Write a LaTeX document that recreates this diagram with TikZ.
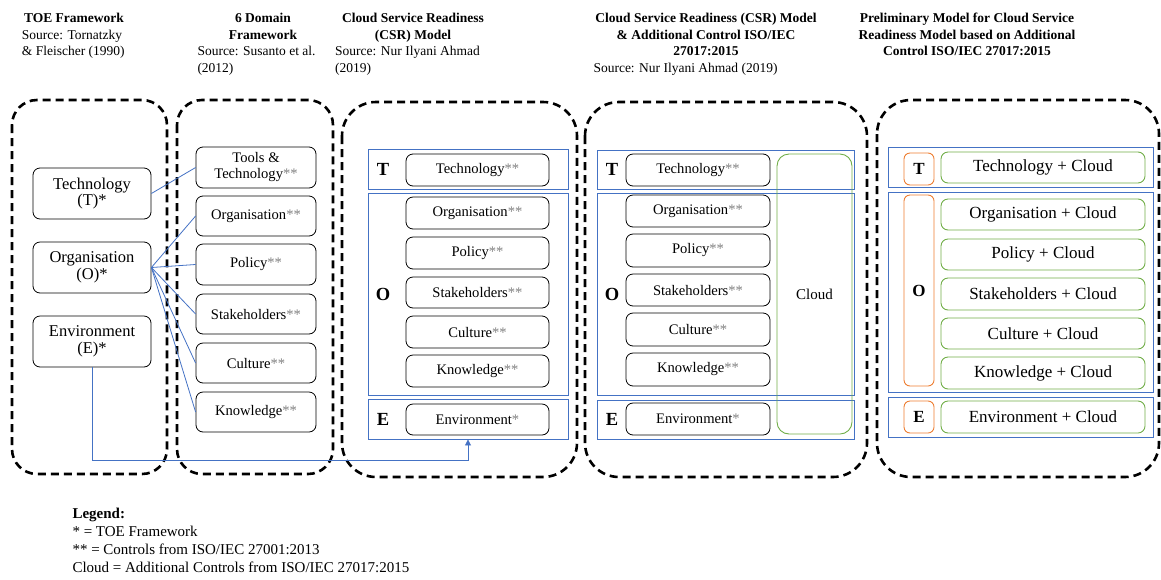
\documentclass[tikz,border=0pt]{standalone}
\usepackage{fontspec}
\setmainfont{Liberation Serif}
\usetikzlibrary{arrows.meta}
\definecolor{bandblue}{HTML}{4472C4}
\definecolor{cgreen}{HTML}{70AD47}
\definecolor{corange}{HTML}{ED7D31}
\definecolor{stargray}{HTML}{7F7F7F}
\newcommand\st[1]{\textcolor{stargray}{#1}}
% #1 style, #2 name, #3 x1, #4 y1, #5 x2, #6 y2, #7 text
\newcommand\mkbox[7]{%
  \pgfmathsetmacro\mkX{(#3+#5)/2}%
  \pgfmathsetmacro\mkY{(#4+#6)/2}%
  \pgfmathsetmacro\mkW{#5-#3}%
  \pgfmathsetmacro\mkH{#6-#4}%
  \node[#1, minimum width=\mkW pt, minimum height=\mkH pt, inner sep=0pt] (#2) at (\mkX,\mkY) {#7};}
\begin{document}
\begin{tikzpicture}[x=1pt,y=-1pt,
  panelA/.style={draw=black, line width=2.6pt, dash pattern=on 8pt off 5pt, rounded corners=25pt},
  panelB/.style={draw=black, line width=2.6pt, dash pattern=on 8pt off 5pt, rounded corners=34pt},
  bbox/.style={draw=black, line width=0.8pt, rounded corners=7pt, align=center},
  band/.style={draw=bandblue, line width=0.9pt},
  gbox/.style={draw=cgreen, line width=0.9pt, rounded corners=7pt, align=center},
  obox/.style={draw=corange, line width=0.9pt, rounded corners=6pt},
  conn/.style={draw=bandblue, line width=0.8pt},
  ttl/.style={font=\fontsize{13.5}{16}\selectfont\bfseries, inner sep=0pt},
  src/.style={font=\fontsize{13.5}{16}\selectfont, inner sep=0pt},
  leg/.style={font=\fontsize{15}{18}\selectfont, inner sep=0pt, anchor=base west},
  fone/.style={font=\fontsize{16.5}{16.5}\selectfont},
  ftwo/.style={font=\fontsize{14.6}{16}\selectfont},
  ffive/.style={font=\fontsize{17}{18}\selectfont},
  letter/.style={font=\fontsize{18.5}{20}\selectfont\bfseries, inner sep=0pt},
  letterv/.style={font=\fontsize{17}{20}\selectfont\bfseries},
]
\useasboundingbox (0,0) rectangle (1161,579);

% ---------- titles ----------
\node[ttl, anchor=base] (t1a) at (74,22.5) {TOE Framework};
\node[src, anchor=base west] (t1b) at (21.7,39) {Source: Tornatzky};
\node[src, anchor=base west] (t1c) at (21.7,55.5) {\& Fleischer (1990)};

\node[ttl, anchor=base] (t2a) at (263,22.5) {6 Domain};
\node[ttl, anchor=base] (t2b) at (263,39) {Framework};
\node[src, anchor=base west] (t2c) at (197.3,55.5) {Source: Susanto et al.};
\node[src, anchor=base west] (t2d) at (197.3,72) {(2012)};

\node[ttl, anchor=base] (t3a) at (413,22.5) {Cloud Service Readiness};
\node[ttl, anchor=base] (t3b) at (413,39) {(CSR) Model};
\node[src, anchor=base west] (t3c) at (335,55.5) {Source: Nur Ilyani Ahmad};
\node[src, anchor=base west] (t3d) at (335,72) {(2019)};

\node[ttl, anchor=base] (t4a) at (706,22.5) {Cloud Service Readiness (CSR) Model};
\node[ttl, anchor=base] (t4b) at (706,39) {\& Additional Control ISO/IEC};
\node[ttl, anchor=base] (t4c) at (706,55.5) {27017:2015};
\node[src, anchor=base west] (t4d) at (593.3,72) {Source: Nur Ilyani Ahmad (2019)};

\node[ttl, anchor=base] (t5a) at (967,22.5) {Preliminary Model for Cloud Service};
\node[ttl, anchor=base] (t5b) at (967,39) {Readiness Model based on Additional};
\node[ttl, anchor=base] (t5c) at (967,55.5) {Control ISO/IEC 27017:2015};

% ---------- dashed panels ----------
\draw[panelA] (12,100) rectangle (167,474);
\draw[panelA] (177,100) rectangle (333,474);
\draw[panelB] (342,102) rectangle (577,477);
\draw[panelB] (585,102) rectangle (867,477);
\draw[panelB] (877,100) rectangle (1159,477);

% ---------- panel 1 ----------
\mkbox{bbox,fone}{tech1}{33}{168}{151}{219}{Technology\\(T)*}
\mkbox{bbox,fone}{org1}{33}{242}{151}{293}{Organisation\\(O)*}
\mkbox{bbox,fone}{env1}{33}{316}{151}{367}{Environment\\(E)*}

% ---------- panel 2 ----------
\mkbox{bbox,ftwo}{tools2}{196}{147}{316}{188}{Tools \&\\Technology\st{**}}
\mkbox{bbox,ftwo}{org2}{196}{196}{316}{236}{Organisation\st{**}}
\mkbox{bbox,ftwo}{pol2}{196}{244}{316}{285}{Policy\st{**}}
\mkbox{bbox,ftwo}{stk2}{196}{294}{316}{334}{Stakeholders\st{**}}
\mkbox{bbox,ftwo}{cul2}{196}{343}{316}{383}{Culture\st{**}}
\mkbox{bbox,ftwo}{kno2}{196}{392}{316}{432}{Knowledge\st{**}}

% ---------- panel 3 ----------
\mkbox{band}{tb3}{368}{149}{568}{189}{}
\mkbox{band}{ob3}{368}{193}{568}{395}{}
\mkbox{band}{eb3}{368}{399}{568}{439}{}
\node[letter] (lt3) at (383,169) {T};
\node[letter] (lo3) at (383,294) {O};
\node[letter] (le3) at (383,419) {E};
\mkbox{bbox,ftwo}{tech3}{406}{154}{549}{186}{Technology\st{**}}
\mkbox{bbox,ftwo}{org3}{406}{197}{549}{229}{Organisation\st{**}}
\mkbox{bbox,ftwo}{pol3}{406}{237}{549}{269}{Policy\st{**}}
\mkbox{bbox,ftwo}{stk3}{406}{277}{549}{308}{Stakeholders\st{**}}
\mkbox{bbox,ftwo}{cul3}{406}{316}{549}{348}{Culture\st{**}}
\mkbox{bbox,ftwo}{kno3}{406}{355}{549}{387}{Knowledge\st{**}}
\mkbox{bbox,ftwo}{env3}{406}{404}{549}{435}{Environment\st{*}}

% ---------- panel 4 ----------
\mkbox{band}{tb4}{597}{150}{854}{189}{}
\mkbox{band}{ob4}{597}{193}{854}{395}{}
\mkbox{band}{eb4}{597}{400}{854}{439}{}
\node[letter] (lt4) at (612,169.5) {T};
\node[letter] (lo4) at (612,294) {O};
\node[letter] (le4) at (612,419.5) {E};
\mkbox{bbox,ftwo}{tech4}{626}{154}{770}{186}{Technology\st{**}}
\mkbox{bbox,ftwo}{org4}{626}{195}{770}{227}{Organisation\st{**}}
\mkbox{bbox,ftwo}{pol4}{626}{234}{770}{267}{Policy\st{**}}
\mkbox{bbox,ftwo}{stk4}{626}{274}{770}{306}{Stakeholders\st{**}}
\mkbox{bbox,ftwo}{cul4}{626}{313}{770}{346}{Culture\st{**}}
\mkbox{bbox,ftwo}{kno4}{626}{353}{770}{386}{Knowledge\st{**}}
\mkbox{bbox,ftwo}{env4}{626}{403}{770}{435}{Environment\st{*}}
\mkbox{gbox,font=\fontsize{15}{16}\selectfont,rounded corners=12pt}{cloud4}{777}{154}{852}{434}{Cloud}

% ---------- panel 5 ----------
\mkbox{band}{tb5}{888}{147}{1153}{187}{}
\mkbox{band}{ob5}{888}{192}{1153}{392}{}
\mkbox{band}{eb5}{888}{397}{1153}{437}{}
\mkbox{obox,letterv}{lt5}{904}{153}{934}{185}{T}
\mkbox{obox,letterv}{lo5}{904}{195}{934}{386}{O}
\mkbox{obox,letterv}{le5}{904}{401}{934}{433}{E}
\mkbox{gbox,ffive}{tech5}{941}{152}{1145}{183}{Technology + Cloud}
\mkbox{gbox,ffive}{org5}{941}{199}{1145}{230}{Organisation + Cloud}
\mkbox{gbox,ffive}{pol5}{941}{239}{1145}{270}{Policy + Cloud}
\mkbox{gbox,ffive}{stk5}{941}{278}{1145}{310}{Stakeholders + Cloud}
\mkbox{gbox,ffive}{cul5}{941}{318}{1145}{349}{Culture + Cloud}
\mkbox{gbox,ffive}{kno5}{941}{357}{1145}{389}{Knowledge + Cloud}
\mkbox{gbox,ffive}{env5}{941}{401}{1145}{433}{Environment + Cloud}

% ---------- connectors ----------
\draw[conn] (tech1.east) -- (tools2.west);
\foreach \n in {org2,pol2,stk2,cul2,kno2}{\draw[conn] (org1.east) -- (\n.west);}
\coordinate (bend) at (468,460);
\draw[conn,-{Triangle[length=6pt,width=6pt]}] (env1.south) |- (bend) -- (bend |- eb3.south);

% ---------- legend ----------
\node[leg, font=\fontsize{15}{18}\selectfont\bfseries] (lg0) at (72.3,518.5) {Legend:};
\node[leg] (lg1) at (72.3,536.5) {* = TOE Framework};
\node[leg] (lg2) at (72.3,554.5) {** = Controls from ISO/IEC 27001:2013};
\node[leg] (lg3) at (72.3,572) {Cloud = Additional Controls from ISO/IEC 27017:2015};
\end{tikzpicture}
\end{document}
